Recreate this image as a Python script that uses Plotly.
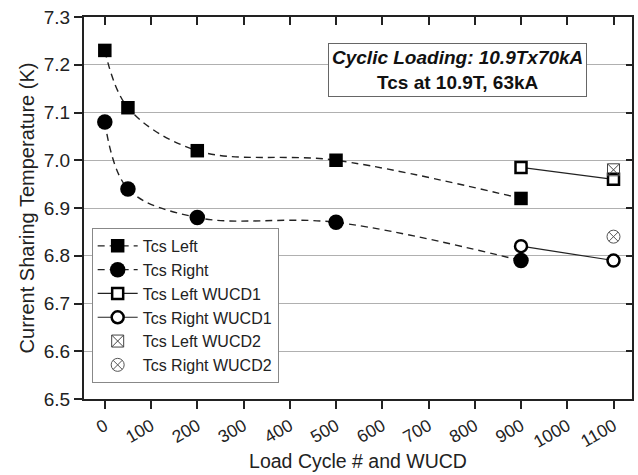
import plotly.graph_objects as go

# ---- data ----
cycles = [0, 50, 200, 500, 900]
tcs_left = [7.23, 7.11, 7.02, 7.00, 6.92]
tcs_right = [7.08, 6.94, 6.88, 6.87, 6.79]

wucd1_x = [900, 1100]
tcs_left_wucd1 = [6.985, 6.96]
tcs_right_wucd1 = [6.82, 6.79]

wucd2_x = [1100]
tcs_left_wucd2 = [6.98]
tcs_right_wucd2 = [6.84]

x_ticks = [0, 100, 200, 300, 400, 500, 600, 700, 800, 900, 1000, 1100]
y_ticks = [6.5, 6.6, 6.7, 6.8, 6.9, 7.0, 7.1, 7.2, 7.3]

FONT = "Liberation Sans, Arial, sans-serif"
XR = [-45, 1140]
YR = [6.5, 7.3]
DASH = "7px,5px"

fig = go.Figure()

fig.add_trace(go.Scatter(
    x=cycles, y=tcs_left, name="Tcs Left", mode="lines+markers",
    line=dict(color="#222", width=1.4, dash=DASH, shape="spline"),
    marker=dict(symbol="square", size=13.5, color="black"),
))
fig.add_trace(go.Scatter(
    x=cycles, y=tcs_right, name="Tcs Right", mode="lines+markers",
    line=dict(color="#222", width=1.4, dash=DASH, shape="spline"),
    marker=dict(symbol="circle", size=15.5, color="black"),
))
fig.add_trace(go.Scatter(
    x=wucd1_x, y=tcs_left_wucd1, name="Tcs Left WUCD1", mode="lines+markers",
    line=dict(color="#222", width=1.2),
    marker=dict(symbol="square", size=11, color="white",
                line=dict(color="black", width=2.5)),
))
fig.add_trace(go.Scatter(
    x=wucd1_x, y=tcs_right_wucd1, name="Tcs Right WUCD1", mode="lines+markers",
    line=dict(color="#222", width=1.2),
    marker=dict(symbol="circle", size=12, color="white",
                line=dict(color="black", width=2.5)),
))
fig.add_trace(go.Scatter(
    x=wucd2_x, y=tcs_left_wucd2, name="Tcs Left WUCD2", mode="markers",
    marker=dict(symbol="square-x-open", size=12, color="#444",
                line=dict(color="#444", width=1)),
))
fig.add_trace(go.Scatter(
    x=wucd2_x, y=tcs_right_wucd2, name="Tcs Right WUCD2", mode="markers",
    marker=dict(symbol="circle-x-open", size=13, color="#555",
                line=dict(color="#555", width=1)),
))
# dummy trace for mirrored (inside) axes
fig.add_trace(go.Scatter(x=[], y=[], xaxis="x2", yaxis="y2",
                         showlegend=False, hoverinfo="skip"))

fig.update_layout(
    width=638, height=475,
    margin=dict(l=84, r=6, t=17, b=74),
    paper_bgcolor="white", plot_bgcolor="white",
    font=dict(family=FONT, color="#222"),
    showlegend=True,
    legend=dict(
        x=0.014, y=0.042, xanchor="left", yanchor="bottom",
        bgcolor="white", bordercolor="#888", borderwidth=1,
        font=dict(size=16, family=FONT, color="#222"),
        itemwidth=40, tracegroupgap=0,
    ),
    xaxis=dict(
        range=XR, tickvals=x_ticks, ticktext=[str(v) for v in x_ticks],
        tickangle=-30, ticks="outside", ticklen=8, tickwidth=1.5,
        tickcolor="#222", showgrid=False, zeroline=False,
        showline=True, linecolor="#222", linewidth=2,
        tickfont=dict(size=17.5, family=FONT, color="#222"),
        title=dict(text="Load Cycle # and WUCD", standoff=4,
                   font=dict(size=19.5, family=FONT, color="#222")),
    ),
    yaxis=dict(
        range=YR, tickvals=y_ticks, ticktext=[f"{v:.1f}" for v in y_ticks],
        ticks="outside", ticklen=8, tickwidth=1.5, tickcolor="#222",
        showgrid=True, gridcolor="#b0b0b0", gridwidth=1, zeroline=False,
        showline=True, linecolor="#222", linewidth=2,
        tickfont=dict(size=19, family=FONT, color="#222"),
        title=dict(text="Current Sharing Temperature (K)", standoff=4,
                   font=dict(size=20, family=FONT, color="#222")),
    ),
    xaxis2=dict(
        overlaying="x", side="top", anchor="y2", range=XR, tickvals=x_ticks,
        showticklabels=False, ticks="inside", ticklen=8, tickwidth=1.5,
        tickcolor="#222", showgrid=False, zeroline=False,
        showline=True, linecolor="#222", linewidth=2,
    ),
    yaxis2=dict(
        overlaying="y", side="right", anchor="x2", range=YR, tickvals=y_ticks,
        showticklabels=False, ticks="inside", ticklen=6, tickwidth=1.5,
        tickcolor="#222", showgrid=False, zeroline=False,
        showline=True, linecolor="#222", linewidth=2,
    ),
    annotations=[dict(
        x=0.681, y=0.861, xref="paper", yref="paper",
        xanchor="center", yanchor="middle", showarrow=False,
        text="<b><i>Cyclic Loading: 10.9Tx70kA</i></b><br><b>Tcs at 10.9T, 63kA</b>",
        font=dict(size=19, family=FONT, color="#111"),
        align="center", bgcolor="white", bordercolor="#666",
        borderwidth=1, borderpad=3,
    )],
)

fig.write_html("out.html")
